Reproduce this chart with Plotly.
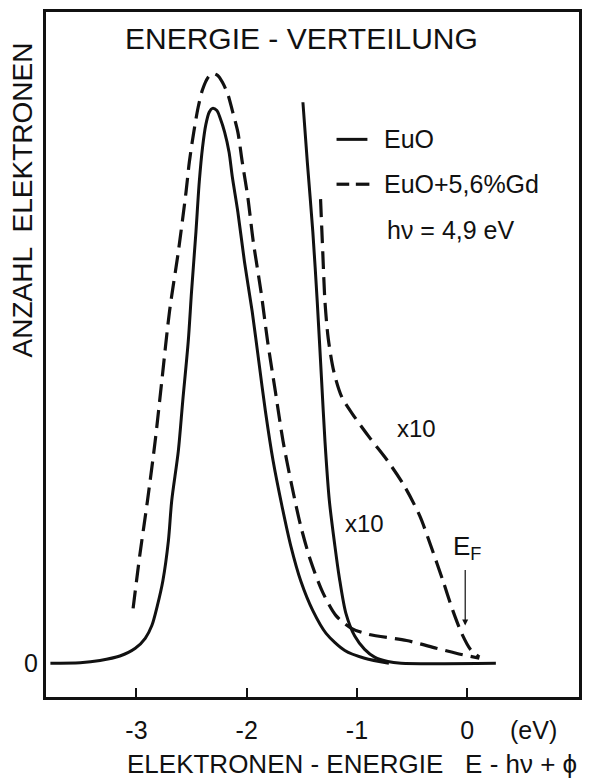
import plotly.graph_objects as go

# EuO, unscaled
euo_x = [-3.78, -3.51, -3.33, -3.15, -3.01, -2.92, -2.86, -2.81, -2.76, -2.71, -2.68, -2.62, -2.58,
         -2.53, -2.50, -2.46, -2.43, -2.40, -2.37, -2.34, -2.31, -2.27, -2.24, -2.20, -2.16, -2.13,
         -2.08, -2.02, -1.95, -1.89, -1.83, -1.76, -1.68, -1.60, -1.51, -1.40, -1.28, -1.11, -0.93, -0.71]
euo_y = [0.0, 0.1, 0.5, 1.3, 2.7, 4.5, 6.8, 10.4, 14.9, 22.1, 29.3, 38.3, 47.3,
         58.1, 67.1, 77.9, 86.9, 93.2, 97.3, 99.5, 100.2, 99.8, 98.4, 95.9, 92.3, 87.8,
         81.5, 72.5, 63.5, 54.5, 45.5, 36.5, 28.4, 21.2, 14.9, 9.5, 5.4, 2.3, 0.9, 0.0]

# EuO x10
euo10_x = [-1.49, -1.45, -1.40, -1.36, -1.32, -1.29, -1.25, -1.20, -1.16, -1.10, -1.02, -0.93, -0.84,
           -0.72, -0.60, 0.26]
euo10_y = [101.3, 90.5, 77.9, 65.3, 50.9, 40.1, 29.3, 21.2, 15.5, 9.0, 4.9, 2.5, 1.1,
           0.3, 0.0, 0.0]

# EuO + 5,6 % Gd, unscaled
gd_x = [-3.03, -2.97, -2.90, -2.83, -2.77, -2.70, -2.62, -2.55, -2.52, -2.48, -2.44, -2.40, -2.35,
        -2.31, -2.26, -2.22, -2.17, -2.13, -2.08, -2.04, -1.99, -1.94, -1.87, -1.81, -1.74, -1.67,
        -1.59, -1.51, -1.42, -1.31, -1.19, -1.05, -0.89, -0.55, -0.28, -0.10, 0.11]
gd_y = [9.9, 19.4, 29.3, 40.1, 50.9, 63.5, 74.3, 85.1, 90.5, 95.9, 100.4, 103.6, 105.8,
        106.5, 106.1, 104.9, 102.7, 99.8, 95.9, 90.5, 84.2, 76.1, 67.1, 58.1, 49.1, 40.1,
        32.0, 24.8, 18.5, 12.8, 8.6, 6.3, 5.2, 4.1, 2.7, 1.8, 0.9]

# EuO + 5,6 % Gd x10
gd10_x = [-1.33, -1.31, -1.29, -1.26, -1.21, -1.14, -1.04, -0.88, -0.72, -0.57, -0.43, -0.33, -0.22,
          -0.13, -0.05, 0.03, 0.11]
gd10_y = [83.8, 74.3, 65.3, 58.6, 52.7, 48.2, 45.0, 40.6, 36.5, 32.0, 26.6, 21.2, 14.9,
          9.5, 5.4, 2.5, 1.1]

tick_vals = [-3, -2, -1, 0]
tick_text = ["-3", "-2", "-1", "0"]

FONT = "Liberation Sans"
BLACK = "#111111"
DASH = "18px,8px"

fig = go.Figure()
fig.add_trace(go.Scatter(x=euo_x, y=euo_y, mode="lines",
                         line=dict(color=BLACK, width=3, shape="spline", smoothing=0.8), showlegend=False))
fig.add_trace(go.Scatter(x=euo10_x, y=euo10_y, mode="lines",
                         line=dict(color=BLACK, width=3, shape="spline", smoothing=0.8), showlegend=False))
fig.add_trace(go.Scatter(x=gd_x, y=gd_y, mode="lines",
                         line=dict(color=BLACK, width=3.2, dash=DASH, shape="spline", smoothing=0.8),
                         showlegend=False))
fig.add_trace(go.Scatter(x=gd10_x, y=gd10_y, mode="lines",
                         line=dict(color=BLACK, width=3.2, dash=DASH, shape="spline", smoothing=0.8),
                         showlegend=False))

# legend samples
fig.add_shape(type="line", x0=-1.185, x1=-0.905, y0=94.6, y1=94.6, line=dict(color=BLACK, width=3))
fig.add_shape(type="line", x0=-1.185, x1=-1.07, y0=86.5, y1=86.5, line=dict(color=BLACK, width=3.2))
fig.add_shape(type="line", x0=-1.01, x1=-0.887, y0=86.5, y1=86.5, line=dict(color=BLACK, width=3.2))

ann = []
def txt(x, y, s, size, xanchor="left", xref="x", yref="y", angle=0, yanchor="middle"):
    ann.append(dict(x=x, y=y, xref=xref, yref=yref, text=s, showarrow=False, xanchor=xanchor,
                    yanchor=yanchor, textangle=angle, font=dict(family=FONT, size=size, color=BLACK)))

txt(-0.77, 94.6, "EuO", 25)
txt(-0.77, 86.5, "EuO+5,6%Gd", 25)
txt(-0.75, 78.2, "hν = 4,9 eV", 25)
txt(-0.46, 42.4, "x10", 24, xanchor="center")
txt(-0.93, 25.2, "x10", 24, xanchor="center")
txt(-0.145, 20.9, "E<sub>F</sub>", 26)
txt(0.479, 0.961, "ENERGIE - VERTEILUNG", 30, xanchor="center", xref="paper", yref="paper")
txt(-0.045, 0.725, "ANZAHL  ELEKTRONEN", 28, xanchor="center", xref="paper", yref="paper", angle=-90)
txt(0.915, -0.048, "(eV)", 25, xanchor="center", xref="paper", yref="paper")
txt(0.575, -0.098, "ELEKTRONEN - ENERGIE   E - hν + ϕ", 26, xanchor="center", xref="paper", yref="paper")

ann.append(dict(x=-0.018, y=6.8, ax=-0.018, ay=17.1, xref="x", yref="y", axref="x", ayref="y",
                showarrow=True, arrowhead=2, arrowsize=1, arrowwidth=1.2, arrowcolor=BLACK, text=""))

fig.update_layout(
    width=591, height=782,
    margin=dict(l=46, r=11, t=9, b=85),
    paper_bgcolor="white", plot_bgcolor="white",
    annotations=ann,
    xaxis=dict(range=[-3.82, 1.014], showgrid=False, zeroline=False, showline=True, linewidth=3,
               linecolor=BLACK, mirror=True, ticks="inside", ticklen=9, tickwidth=2, tickcolor=BLACK,
               tickvals=tick_vals, ticktext=tick_text, ticklabelstandoff=9,
               tickfont=dict(family=FONT, size=25, color=BLACK)),
    yaxis=dict(range=[-6.1, 117.6], showgrid=False, zeroline=False, showline=True, linewidth=3,
               linecolor=BLACK, mirror=True, ticks="", tickvals=[0], ticktext=["0"],
               tickfont=dict(family=FONT, size=25, color=BLACK)),
)

fig.write_html("out.html")
